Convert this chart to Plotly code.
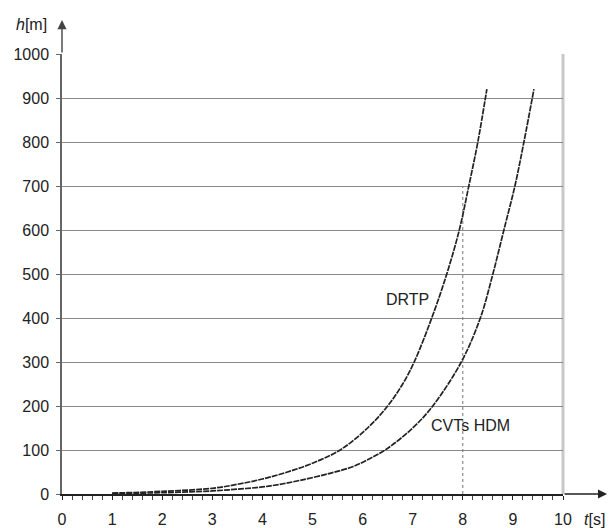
import plotly.graph_objects as go

# ---- data ----
drtp_t = [1.0, 2.0, 3.0, 3.5, 4.0, 4.5, 5.0, 5.55, 6.1, 6.5, 6.8, 7.03, 7.38, 7.68, 7.93, 8.12, 8.30, 8.48]
drtp_h = [2, 6, 13, 22, 34, 50, 70, 100, 150, 200, 250, 300, 400, 500, 600, 700, 800, 920]

cvts_t = [1.0, 2.0, 3.0, 3.5, 4.0, 4.35, 4.75, 5.35, 5.8, 6.1, 6.45, 7.0, 7.4, 7.97, 8.35, 8.6, 8.82, 9.04, 9.22, 9.42]
cvts_h = [1, 3, 7, 11, 16, 22, 31, 47, 62, 78, 100, 150, 200, 300, 400, 500, 600, 700, 800, 920]

marker_t = [8, 8]
marker_h = [0, 700]

x_ticks = [0, 1, 2, 3, 4, 5, 6, 7, 8, 9, 10]
y_ticks = [0, 100, 200, 300, 400, 500, 600, 700, 800, 900, 1000]

labels = ["DRTP", "CVTs HDM"]
label_t = [6.89, 8.16]
label_h = [443, 155]

FONT = "Liberation Sans, Arial, sans-serif"

fig = go.Figure()

fig.add_trace(go.Scatter(x=marker_t, y=marker_h, mode="lines",
                         line=dict(color="#777", width=1, dash="dot"),
                         hoverinfo="skip", showlegend=False))

for t, h in [(drtp_t, drtp_h), (cvts_t, cvts_h)]:
    fig.add_trace(go.Scatter(x=t, y=h, mode="lines",
                             line=dict(color="#222", width=1.7, shape="spline",
                                       smoothing=1.0, dash="6px,1px"),
                             showlegend=False, cliponaxis=False))

for txt, t, h in zip(labels, label_t, label_h):
    fig.add_annotation(x=t, y=h, text=txt, showarrow=False,
                       font=dict(family=FONT, size=16, color="#222"),
                       xanchor="center", yanchor="middle")

# right border
fig.add_shape(type="line", xref="paper", yref="paper", x0=1, x1=1, y0=0, y1=1,
              line=dict(color="#c8c8c8", width=3), layer="below")

# axis arrows
fig.add_annotation(xref="paper", yref="paper", x=1.088, y=0, ax=-44, ay=0,
                   text="", showarrow=True, arrowhead=2, arrowsize=1.3,
                   arrowwidth=1.4, arrowcolor="#222")
fig.add_annotation(xref="paper", yref="paper", x=0, y=1.077, ax=0, ay=34,
                   text="", showarrow=True, arrowhead=2, arrowsize=1.3,
                   arrowwidth=1.4, arrowcolor="#444")

# axis titles
fig.add_annotation(xref="paper", yref="paper", x=-0.06, y=1.068,
                   text="<i>h</i>[m]", showarrow=False,
                   font=dict(family=FONT, size=16, color="#222"),
                   xanchor="center", yanchor="middle")
fig.add_annotation(xref="paper", yref="paper", x=1.062, y=-0.059,
                   text="<i>t</i>[s]", showarrow=False,
                   font=dict(family=FONT, size=16, color="#222"),
                   xanchor="center", yanchor="middle")

fig.update_layout(
    width=612, height=528,
    margin=dict(l=62, r=49, t=54, b=34, autoexpand=False),
    paper_bgcolor="white", plot_bgcolor="white",
    font=dict(family=FONT, size=16, color="#222"),
    xaxis=dict(range=[0, 10], tickvals=x_ticks, ticktext=[str(v) for v in x_ticks],
               showgrid=False, zeroline=False, showline=True,
               linecolor="#222", linewidth=1.5,
               ticks="outside", ticklen=4, tickcolor="#222", tickwidth=1,
               ticklabelstandoff=6,
               minor=dict(dtick=0.2, ticks="outside", ticklen=4, tickcolor="#444", showgrid=False),
               tickfont=dict(family=FONT, size=16, color="#222")),
    yaxis=dict(range=[0, 1000], tickvals=y_ticks, ticktext=[str(v) for v in y_ticks],
               showgrid=True, gridcolor="#8a8a8a", gridwidth=1.3,
               zeroline=False, showline=True, linecolor="#666", linewidth=1.5,
               ticks="outside", ticklen=4, tickcolor="#666",
               ticklabelstandoff=4,
               tickfont=dict(family=FONT, size=16, color="#222")),
)

fig.write_html("out.html")
